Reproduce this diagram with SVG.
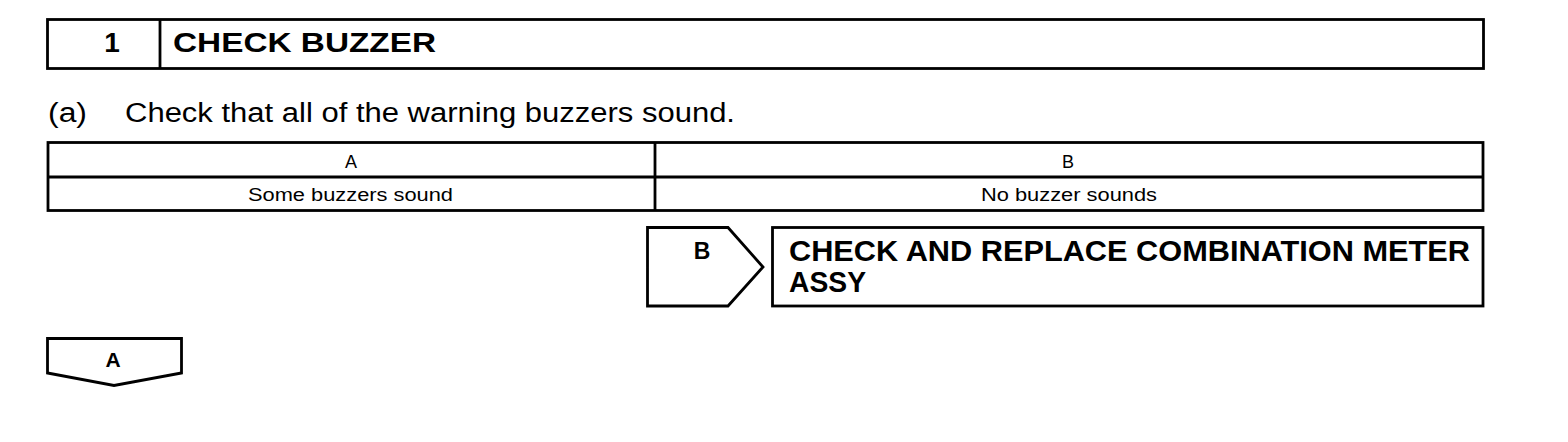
<svg xmlns="http://www.w3.org/2000/svg" width="1568" height="442" viewBox="0 0 1568 442">
<style>
.ln{fill:none;stroke:#000;stroke-width:2.8}
.b{font-family:"Liberation Sans",Arial,sans-serif;font-weight:bold;fill:#000}
.r{font-family:"Liberation Sans",Arial,sans-serif;fill:#000}
</style>
<rect width="1568" height="442" fill="#fff"/>
<g id="header">
<rect class="ln" x="47.5" y="19.5" width="1436" height="49"/>
<line class="ln" x1="160" y1="19.5" x2="160" y2="68.5"/>
<text class="b" x="112" y="52" font-size="28" text-anchor="middle">1</text>
<text class="b" x="173" y="52" font-size="28" textLength="263" lengthAdjust="spacingAndGlyphs">CHECK BUZZER</text>
</g>
<g id="step-a">
<text class="r" x="48" y="122" font-size="27" textLength="39" lengthAdjust="spacingAndGlyphs">(a)</text>
<text class="r" x="125" y="122" font-size="27" textLength="610" lengthAdjust="spacingAndGlyphs">Check that all of the warning buzzers sound.</text>
</g>
<g id="table">
<rect class="ln" x="48" y="142.5" width="1435" height="68"/>
<line class="ln" x1="48" y1="177" x2="1483" y2="177"/>
<line class="ln" x1="655" y1="142.5" x2="655" y2="210.5"/>
<text class="r" x="351" y="168" font-size="18" text-anchor="middle">A</text>
<text class="r" x="1068" y="168" font-size="18" text-anchor="middle">B</text>
<text class="r" x="248" y="201" font-size="18" textLength="205" lengthAdjust="spacingAndGlyphs">Some buzzers sound</text>
<text class="r" x="981" y="201" font-size="18" textLength="176" lengthAdjust="spacingAndGlyphs">No buzzer sounds</text>
</g>
<g id="tab-b">
<polygon class="ln" points="647.5,227.5 728,227.5 763,267 728,306 647.5,306"/>
<text class="b" x="702" y="259" font-size="23" text-anchor="middle">B</text>
</g>
<g id="result-b">
<rect class="ln" x="772.5" y="227.5" width="710.5" height="78.5"/>
<text class="b" x="789" y="261" font-size="29" textLength="681" lengthAdjust="spacingAndGlyphs">CHECK AND REPLACE COMBINATION METER</text>
<text class="b" x="789" y="292" font-size="29" textLength="77" lengthAdjust="spacingAndGlyphs">ASSY</text>
</g>
<g id="tab-a">
<polygon class="ln" points="47.5,338.5 181.5,338.5 181.5,373 114,385.5 47.5,373"/>
<text class="b" x="113" y="367" font-size="21" text-anchor="middle">A</text>
</g>
<g id="connectors"></g>
</svg>
